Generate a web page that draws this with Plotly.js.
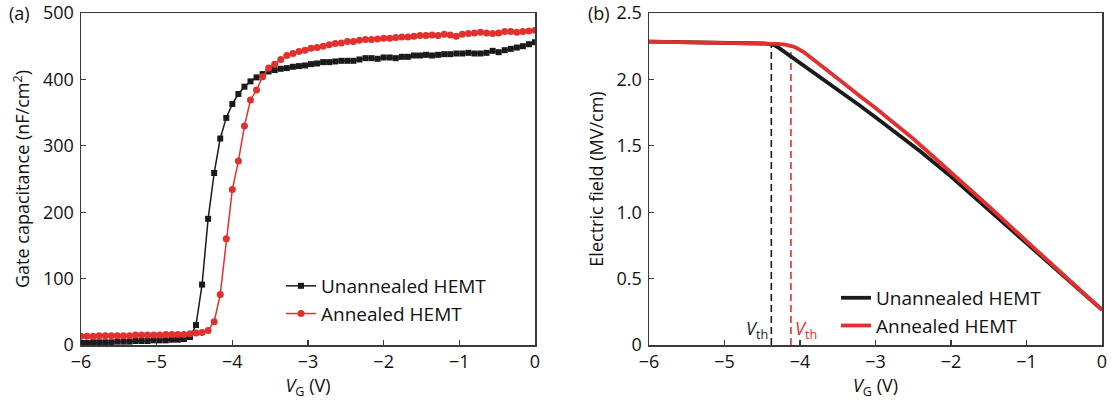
<!DOCTYPE html>
<html>
<head>
<meta charset="utf-8">
<script src="https://cdn.plot.ly/plotly-3.0.1.min.js"></script>
<style>
  html, body { margin: 0; padding: 0; background: #fff; }
  #chart { width: 1111px; height: 404px; }
</style>
</head>
<body>
<div id="chart"></div>
<script>
// ---------- Panel (a): gate capacitance vs V_G ----------
const vgA = [-6.00, -5.92, -5.84, -5.76, -5.68, -5.60, -5.52, -5.44, -5.36, -5.28,
  -5.20, -5.12, -5.04, -4.96, -4.88, -4.80, -4.72, -4.64, -4.56, -4.48,
  -4.40, -4.32, -4.24, -4.16, -4.08, -4.00, -3.92, -3.84, -3.76, -3.68,
  -3.60, -3.52, -3.44, -3.36, -3.28, -3.20, -3.12, -3.04, -2.96, -2.88,
  -2.80, -2.72, -2.64, -2.56, -2.48, -2.40, -2.32, -2.24, -2.16, -2.08,
  -2.00, -1.92, -1.84, -1.76, -1.68, -1.60, -1.52, -1.44, -1.36, -1.28,
  -1.20, -1.12, -1.04, -0.96, -0.88, -0.80, -0.72, -0.64, -0.56, -0.48,
  -0.40, -0.32, -0.24, -0.16, -0.08, 0.00];

const capUnannealed = [3, 3, 4, 4, 4, 4, 5, 5, 5, 6,
  6, 6, 7, 7, 7, 8, 8, 9, 12, 30,
  91, 190, 259, 311, 342, 363, 378, 389, 397, 403,
  408, 412, 414, 416, 417, 419, 420, 421, 423, 424,
  426, 426, 427, 428, 428, 428, 430, 432, 432, 431,
  433, 433, 432, 434, 434, 436, 436, 437, 436, 437,
  438, 438, 439, 439, 440, 439, 439, 440, 443, 441,
  444, 446, 448, 450, 453, 456];

const capAnnealed = [13, 13, 13, 14, 14, 14, 14, 14, 14, 15,
  15, 15, 15, 15, 16, 16, 16, 16, 17, 18,
  19, 22, 35, 76, 160, 234, 277, 330, 369, 384,
  404, 417, 423, 430, 436, 439, 442, 444, 447, 448,
  450, 452, 454, 455, 457, 457, 459, 460, 460, 461,
  462, 462, 463, 464, 464, 465, 466, 466, 467, 466,
  468, 467, 465, 468, 469, 470, 471, 470, 469, 470,
  472, 472, 471, 472, 473, 474];

// ---------- Panel (b): electric field vs V_G ----------
const vgUnannealedB = [-6.0, -5.5, -5.0, -4.6, -4.45, -4.38, -4.33, -4.28, -4.2, -4.0,
  -3.8, -3.6, -3.4, -3.2, -3.0, -2.68, -2.4, -2.0, -1.5, -1.0, -0.5, 0.0];
const fieldUnannealed = [2.285, 2.282, 2.278, 2.274, 2.270, 2.264, 2.255, 2.237, 2.205, 2.125,
  2.045, 1.965, 1.885, 1.800, 1.715, 1.580, 1.455, 1.268, 1.018, 0.767, 0.516, 0.265];

const vgAnnealedB = [-6.0, -5.5, -5.0, -4.5, -4.3, -4.2, -4.15, -4.1, -4.05, -4.0,
  -3.95, -3.9, -3.8, -3.6, -3.4, -3.2, -3.0, -2.5, -2.0, -1.5, -1.0, -0.5, 0.0];
const fieldAnnealed = [2.285, 2.281, 2.277, 2.271, 2.267, 2.262, 2.257, 2.249, 2.238, 2.224,
  2.205, 2.183, 2.137, 2.050, 1.962, 1.872, 1.785, 1.553, 1.303, 1.045, 0.782, 0.522, 0.265];

// Threshold voltages and the field level where the dashed markers end
const vthVoltages = [-4.38, -4.12];
const vthFieldTop = [2.264, 2.252];

const seriesNames = ['Unannealed HEMT', 'Annealed HEMT'];
const xTicks = [-6, -5, -4, -3, -2, -1, 0];
const yTicksA = [0, 100, 200, 300, 400, 500];
const yTicksB = [0, 0.5, 1.0, 1.5, 2.0, 2.5];
const yTickTextB = ['0', '0.5', '1.0', '1.5', '2.0', '2.5'];

// ---------- styling ----------
const BLACK = '#1a1a1a';
const RED = '#e2302f';
const AXIS = '#3a3a3a';
const FONT = 'Open Sans, Noto Sans, sans-serif';
const TXT = '#111';

const traces = [
  { x: vgA, y: capUnannealed, name: seriesNames[0], type: 'scatter', mode: 'lines+markers',
    xaxis: 'x', yaxis: 'y', legend: 'legend',
    line: { color: BLACK, width: 1.5 }, marker: { symbol: 'square', size: 6, color: BLACK } },
  { x: vgA, y: capAnnealed, name: seriesNames[1], type: 'scatter', mode: 'lines+markers',
    xaxis: 'x', yaxis: 'y', legend: 'legend',
    line: { color: RED, width: 1.5 }, marker: { symbol: 'circle', size: 7, color: RED } },
  { x: vgUnannealedB, y: fieldUnannealed, name: seriesNames[0], type: 'scatter', mode: 'lines',
    xaxis: 'x2', yaxis: 'y2', legend: 'legend2',
    line: { color: BLACK, width: 3.8 } },
  { x: vgAnnealedB, y: fieldAnnealed, name: seriesNames[1], type: 'scatter', mode: 'lines',
    xaxis: 'x2', yaxis: 'y2', legend: 'legend2',
    line: { color: RED, width: 3.8 } }
];

const vthColors = [BLACK, RED];
const shapes = vthVoltages.map((v, i) => ({
  type: 'line', xref: 'x2', yref: 'y2', x0: v, x1: v, y0: 0, y1: vthFieldTop[i],
  line: { color: vthColors[i], width: 1.6, dash: '7px,4px' }, layer: 'below'
}));

const annotations = [
  { text: '(a)', xref: 'paper', yref: 'paper', x: 7 / 1111, y: 1, xanchor: 'left', yanchor: 'middle',
    showarrow: false, font: { family: FONT, size: 18, color: TXT } },
  { text: '(b)', xref: 'paper', yref: 'paper', x: 586 / 1111, y: 1, xanchor: 'left', yanchor: 'middle',
    showarrow: false, font: { family: FONT, size: 18, color: TXT } },
  { text: '<i>V</i><sub>th</sub>', xref: 'x2', yref: 'y2', x: vthVoltages[0], y: 0.12,
    xanchor: 'right', yanchor: 'middle', xshift: -1, showarrow: false,
    font: { family: FONT, size: 18, color: BLACK } },
  { text: '<i>V</i><sub>th</sub>', xref: 'x2', yref: 'y2', x: vthVoltages[1], y: 0.12,
    xanchor: 'left', yanchor: 'middle', xshift: 2, showarrow: false,
    font: { family: FONT, size: 18, color: RED } }
];

function xAxis(domain, anchor) {
  return {
    domain: domain, anchor: anchor, range: [-6, 0], tickvals: xTicks,
    showgrid: false, zeroline: false, showline: true, mirror: true,
    linecolor: AXIS, linewidth: 1.5, ticks: 'inside', ticklen: 5, tickwidth: 1.3, tickcolor: AXIS,
    tickfont: { family: FONT, size: 18, color: TXT },
    title: { text: '<i>V</i><sub>G</sub> (V)', font: { family: FONT, size: 18, color: TXT }, standoff: 4 }
  };
}
function yAxis(anchor, range, tickvals, ticktext, title) {
  const ax = {
    anchor: anchor, range: range, tickvals: tickvals,
    showgrid: false, zeroline: false, showline: true, mirror: true,
    linecolor: AXIS, linewidth: 1.5, ticks: 'inside', ticklen: 5, tickwidth: 1.3, tickcolor: AXIS,
    tickfont: { family: FONT, size: 18, color: TXT }, ticklabelstandoff: 2,
    title: { text: title, font: { family: FONT, size: 18, color: TXT }, standoff: 8 }
  };
  if (ticktext) ax.ticktext = ticktext;
  return ax;
}

const layout = {
  width: 1111, height: 404,
  margin: { l: 0, r: 0, t: 13, b: 59 },
  paper_bgcolor: '#fff', plot_bgcolor: '#fff',
  font: { family: FONT, color: TXT },
  showlegend: true,
  xaxis: xAxis([81 / 1111, 535 / 1111], 'y'),
  yaxis: yAxis('x', [0, 500], yTicksA, null, 'Gate capacitance (nF/cm<sup>2</sup>)'),
  xaxis2: xAxis([649 / 1111, 1102 / 1111], 'y2'),
  yaxis2: yAxis('x2', [0, 2.5], yTicksB, yTickTextB, 'Electric field (MV/cm)'),
  legend: {
    x: 281 / 1111, y: 0.235, xanchor: 'left', yanchor: 'top',
    bgcolor: 'rgba(0,0,0,0)', borderwidth: 0, tracegroupgap: 0,
    font: { family: FONT, size: 19, color: TXT }
  },
  legend2: {
    x: 836 / 1111, y: 0.199, xanchor: 'left', yanchor: 'top',
    bgcolor: 'rgba(0,0,0,0)', borderwidth: 0, tracegroupgap: 0,
    font: { family: FONT, size: 19, color: TXT }
  },
  shapes: shapes,
  annotations: annotations
};

Plotly.newPlot('chart', traces, layout, { displayModeBar: false, staticPlot: true });
</script>
</body>
</html>
